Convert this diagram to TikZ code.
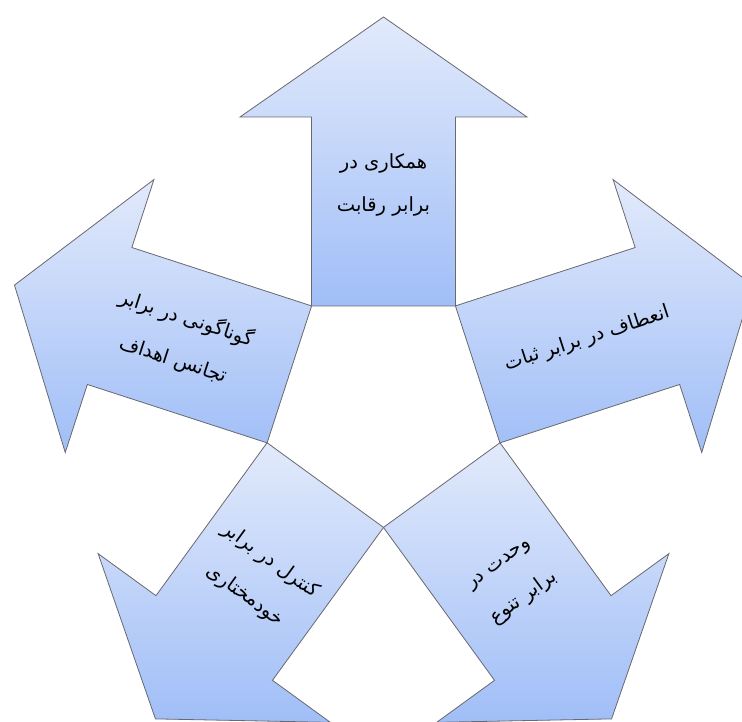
\documentclass[tikz,border=0pt]{standalone}
\usepackage{fontspec}
\newfontfamily\arabicfont[Script=Arabic]{DejaVu Sans}
\TeXXeTstate=1
\usetikzlibrary{calc}
\definecolor{arrtop}{RGB}{226,234,251}
\definecolor{arrbot}{RGB}{160,190,247}
\definecolor{arredge}{RGB}{105,105,112}
\tikzset{
  arrowshape/.style={draw=arredge, line width=0.8pt, top color=arrtop, bottom color=arrbot, line join=miter},
  arrowshadow/.style={fill=black, opacity=0.16},
  lbl/.style={font=\arabicfont\fontsize{19.5}{43}\selectfont, align=center, text=black, inner sep=0pt},
}
\begin{document}
\begin{tikzpicture}[x=1pt,y=1pt]
\path[use as bounding box] (0,0) rectangle (742,722);
\clip (0,0) rectangle (742,722);
\coordinate (C) at (383.5,317);
\foreach \t in {90,162,18,234,306}{
  \path[arrowshadow, shift={(1.2,-1.6)}]
    ($(C)+(\t:99)+(\t-90:72)$) -- ($(C)+(\t:288)+(\t-90:72)$) -- ($(C)+(\t:288)+(\t-90:143.5)$) -- ($(C)+(\t:388)$) -- ($(C)+(\t:288)+(\t+90:143.5)$) -- ($(C)+(\t:288)+(\t+90:72)$) -- ($(C)+(\t:99)+(\t+90:72)$) -- cycle;
}
\foreach \t in {90,162,18,234,306}{
  \path[arrowshape]
    ($(C)+(\t:99)+(\t-90:72)$) -- ($(C)+(\t:288)+(\t-90:72)$) -- ($(C)+(\t:288)+(\t-90:143.5)$) -- ($(C)+(\t:388)$) -- ($(C)+(\t:288)+(\t+90:143.5)$) -- ($(C)+(\t:288)+(\t+90:72)$) -- ($(C)+(\t:99)+(\t+90:72)$) -- cycle;
}
\node[lbl] (top) at ($(C)+(90:220)$) {\beginR همکاری در\endR\\\beginR برابر رقابت\endR};
\node[lbl, rotate=-18] (left) at ($(C)+(162:214)$) {\beginR گوناگونی در برابر\endR\\\beginR تجانس اهداف\endR};
\node[lbl, rotate=18] (right) at ($(C)+(18:214)$) {\beginR انعطاف در برابر  ثبات\endR};
\node[lbl, rotate=-36] (bleft) at ($(C)+(234:214)$) {\beginR کنترل در برابر\endR\\\beginR خودمختاری\endR};
\node[lbl, rotate=36] (bright) at ($(C)+(306:220)$) {\beginR وحدت در\endR\\\beginR برابر تنوع\endR};
\end{tikzpicture}
\end{document}
